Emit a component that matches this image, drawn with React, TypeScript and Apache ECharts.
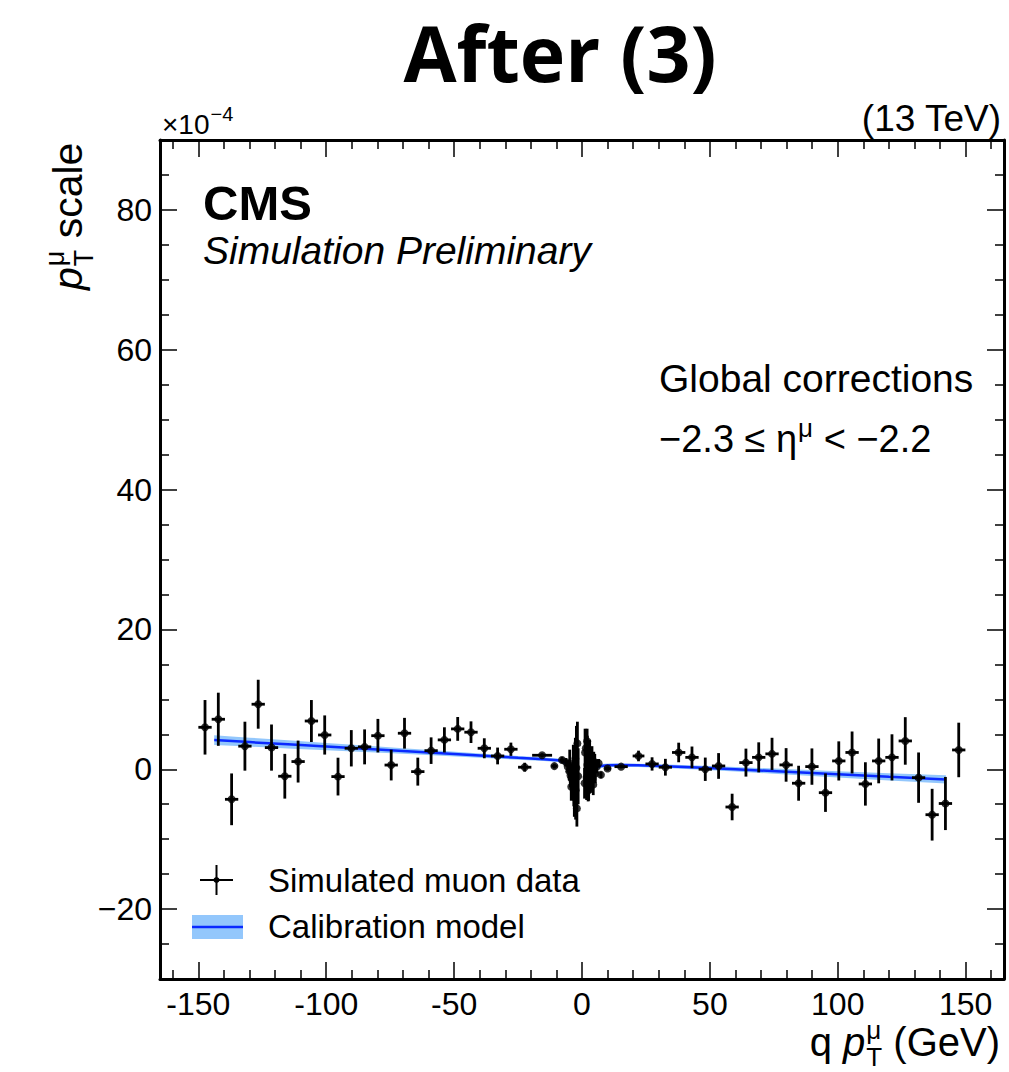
import React, { useEffect, useRef } from 'react';
import * as echarts from 'echarts';

const SANS = '"Liberation Sans", Arial, Helvetica, sans-serif';
const TITLE_FONT = '"Open Sans", "Liberation Sans", sans-serif';
const BAND_COLOR = '#93c7fc';
const LINE_COLOR = '#0a2aff';

// Axis ranges and tick positions
const X_MIN = -165;
const X_MAX = 165;
const Y_MIN = -30;
const Y_MAX = 90;
const xMajorTicks = [-150, -100, -50, 0, 50, 100, 150];
const xMinorTicks = [-160, -140, -130, -120, -110, -90, -80, -70, -60, -40, -30, -20, -10, 10, 20, 30, 40, 60, 70, 80, 90, 110, 120, 130, 140, 160];
const yMajorTicks = [-20, 0, 20, 40, 60, 80];
const yMinorTicks = [-25, -15, -10, -5, 5, 10, 15, 25, 30, 35, 45, 50, 55, 65, 70, 75, 85];

// Simulated muon data, negative-charge side (units of 1e-4)
const BIN_HALF_WIDTH = 2.6;
const leftPt = [-147.4, -142.2, -137.0, -131.8, -126.6, -121.4, -116.2, -111.0, -105.8, -100.6, -95.4, -90.2, -85.0, -79.8, -74.6, -69.4, -64.2, -59.0, -53.8, -48.6, -43.4, -38.2, -33.0, -27.8, -22.4];
const leftScale = [6.0, 7.15, -4.3, 3.3, 9.3, 3.1, -1.0, 1.1, 6.9, 4.9, -1.05, 3.0, 3.2, 4.8, 0.6, 5.15, -0.34, 2.66, 4.2, 5.77, 5.3, 3.0, 1.9, 2.86, 0.29];
const leftErr = [3.9, 3.8, 3.7, 3.5, 3.5, 3.3, 3.2, 3.0, 3.0, 2.8, 2.7, 2.6, 2.5, 2.4, 2.2, 2.2, 2.0, 1.9, 1.8, 1.7, 1.55, 1.43, 1.2, 0.95, 0.64];

// Low-pT core bins
const corePt = [-15.6, -10.8, -7.8, -6.3, -5.6, -5.0, -4.8, -4.5, -4.2, -4.0, -3.6, -3.4, -3.2, -3.0, -2.8, -2.6, -2.5, -2.2, -2.0, -1.8, -1.5,
  1.0, 1.2, 1.5, 1.8, 2.0, 2.1, 2.4, 2.6, 2.8, 3.0, 3.2, 3.6, 3.9, 4.1, 4.4, 4.6, 5.0, 5.2, 5.8, 6.5, 7.4, 10.0, 15.3, 22.1];
const coreScale = [2.0, 0.45, 1.33, 1.0, 0.4, -0.3, 0.8, -0.9, -2.5, -1.4, -1.9, 0.5, -2.4, -4.0, -1.5, 1.5, -3.0, 0.2, -5.6, 3.7, -1.0,
  -2.0, 2.4, 3.0, -1.2, 4.0, 0.6, -1.8, -3.0, 1.4, 2.2, -0.8, 0.3, 1.5, -1.4, -2.2, 0.9, 1.0, -0.6, 0.4, 0.86, -0.8, 0.1, 0.37, 1.9];
const coreErr = [0.3, 0.35, 0.45, 0.6, 0.9, 1.3, 2.0, 1.7, 2.0, 2.1, 2.5, 3.0, 2.9, 2.8, 3.6, 3.0, 4.2, 6.0, 2.6, 3.1, 4.0,
  2.2, 3.4, 2.6, 3.2, 1.8, 4.2, 2.8, 1.5, 2.6, 2.0, 2.6, 2.4, 1.8, 1.8, 1.5, 1.6, 1.2, 1.4, 1.0, 0.6, 0.45, 0.3, 0.25, 0.76];
const coreHalfWidth = [3.9, 1.2, 0.8, 0.3, 0.3, 0.25, 0.25, 0.25, 0.2, 0.2, 0.2, 0.2, 0.2, 0.15, 0.15, 0.15, 0.15, 0.15, 0.15, 0.15, 0.15,
  0.15, 0.15, 0.15, 0.15, 0.15, 0.15, 0.15, 0.15, 0.2, 0.2, 0.2, 0.2, 0.2, 0.25, 0.25, 0.25, 0.3, 0.3, 0.3, 0.35, 0.5, 1.3, 2.6, 2.3];

// Positive-charge side
const rightPt = [27.4, 32.6, 37.8, 43.0, 48.2, 53.4, 58.7, 64.1, 69.1, 74.3, 79.8, 84.7, 89.9, 95.2, 100.4, 105.6, 110.8, 116.0, 121.2, 126.4, 131.6, 136.9, 142.1, 147.3];
const rightScale = [0.76, 0.29, 2.4, 1.7, 0.0, 0.47, -5.4, 0.95, 1.7, 2.2, 0.62, -2.0, 0.38, -3.35, 1.19, 2.4, -2.1, 1.19, 1.7, 4.05, -1.2, -6.5, -4.9, 2.76];
const rightErr = [0.95, 1.2, 1.4, 1.55, 1.67, 1.84, 1.9, 2.0, 2.15, 2.3, 2.4, 2.5, 2.6, 2.75, 2.8, 3.0, 3.1, 3.2, 3.3, 3.4, 3.6, 3.7, 3.8, 3.9];

// Calibration model curve and its uncertainty band
const modelLeftPt = [-143.8, -130, -115, -100, -85, -70, -55, -40, -25, -15, -9.5, -7.5, -5.5];
const modelLeftScale = [4.17, 3.88, 3.56, 3.24, 2.92, 2.6, 2.28, 1.96, 1.64, 1.43, 1.3, 1.08, 0.75];
const modelLeftErr = [0.7, 0.64, 0.58, 0.52, 0.46, 0.4, 0.35, 0.3, 0.27, 0.25, 0.25, 0.28, 0.32];
const modelRightPt = [5.5, 7.5, 10, 15, 22, 30, 45, 60, 80, 100, 120, 142.3];
const modelRightScale = [0.3, 0.47, 0.56, 0.6, 0.56, 0.46, 0.25, 0.0, -0.36, -0.72, -1.08, -1.45];
const modelRightErr = [0.32, 0.28, 0.25, 0.24, 0.24, 0.25, 0.28, 0.32, 0.38, 0.45, 0.52, 0.6];

type FontOpts = { italic?: boolean; bold?: boolean; family?: string; align?: string };

const measureCtx = document.createElement('canvas').getContext('2d') as CanvasRenderingContext2D;

function fontString(size: number, o: FontOpts) {
  return `${o.italic ? 'italic ' : ''}${o.bold ? 'bold ' : ''}${size}px ${o.family || SANS}`;
}

function textWidth(t: string, size: number, o: FontOpts = {}) {
  measureCtx.font = fontString(size, o);
  return measureCtx.measureText(t).width;
}

// SVG text is drawn with a central baseline; shift it so that `baseline` is the alphabetic one.
function centralShift(size: number, o: FontOpts) {
  measureCtx.font = fontString(size, o);
  const m = measureCtx.measureText('Hg');
  const asc = (m as any).fontBoundingBoxAscent ?? size * 0.905;
  const desc = (m as any).fontBoundingBoxDescent ?? size * 0.212;
  return (asc - desc) / 2;
}

function txt(t: string, x: number, baseline: number, size: number, o: FontOpts = {}) {
  return {
    type: 'text',
    x,
    y: baseline - centralShift(size, o),
    silent: true,
    style: {
      text: t,
      fontSize: size,
      fontFamily: o.family || SANS,
      fontWeight: o.bold ? 'bold' : 'normal',
      fontStyle: o.italic ? 'italic' : 'normal',
      fill: '#000',
      align: o.align || 'left',
      verticalAlign: 'middle',
    },
  };
}

// "p_T^mu" with optional leading/trailing text, laid out from local x = x0
function ptLabel(x0: number, baseline: number, size: number, before: string, after: string) {
  const scriptSize = Math.round(size * 0.66);
  const els: any[] = [];
  let x = x0;
  if (before) {
    els.push(txt(before, x, baseline, size));
    x += textWidth(before, size);
  }
  els.push(txt('p', x, baseline, size, { italic: true }));
  x += textWidth('p', size, { italic: true }) + 1;
  els.push(txt('μ', x, baseline - size * 0.43, scriptSize));
  els.push(txt('T', x, baseline + size * 0.26, scriptSize));
  x += Math.max(textWidth('μ', scriptSize), textWidth('T', scriptSize));
  els.push(txt(after, x, baseline, size));
  return els;
}

function ptLabelWidth(size: number, before: string, after: string) {
  const scriptSize = Math.round(size * 0.66);
  return (
    (before ? textWidth(before, size) : 0) +
    textWidth('p', size, { italic: true }) + 1 +
    Math.max(textWidth('μ', scriptSize), textWidth('T', scriptSize)) +
    textWidth(after, size)
  );
}

function buildOption() {
  const points: number[][] = [];
  leftPt.forEach((x, i) => points.push([x, leftScale[i], BIN_HALF_WIDTH, leftErr[i]]));
  corePt.forEach((x, i) => points.push([x, coreScale[i], coreHalfWidth[i], coreErr[i]]));
  rightPt.forEach((x, i) => points.push([x, rightScale[i], BIN_HALF_WIDTH, rightErr[i]]));

  const bands = [
    { x: modelLeftPt, y: modelLeftScale, e: modelLeftErr },
    { x: modelRightPt, y: modelRightScale, e: modelRightErr },
  ];

  const grid = { left: 160, top: 140, width: 844, height: 839, containLabel: false, outerBoundsMode: 'none' };

  const xAxis = (gridIndex: number, position: string, ticks: number[], len: number, line: boolean, labels: boolean) => ({
    type: 'value',
    gridIndex,
    position,
    min: X_MIN,
    max: X_MAX,
    axisLine: { show: line, onZero: false, lineStyle: { color: '#000', width: 3 } },
    axisTick: { show: true, inside: true, length: len, customValues: ticks, lineStyle: { color: '#000', width: 1.5 } },
    axisLabel: labels
      ? { show: true, customValues: ticks, margin: 9, color: '#000', fontSize: 32, fontFamily: SANS }
      : { show: false },
    splitLine: { show: false },
    minorTick: { show: false },
  });

  const yAxis = (gridIndex: number, position: string, ticks: number[], len: number, line: boolean, labels: boolean) => ({
    type: 'value',
    gridIndex,
    position,
    min: Y_MIN,
    max: Y_MAX,
    axisLine: { show: line, onZero: false, lineStyle: { color: '#000', width: 3 } },
    axisTick: { show: true, inside: true, length: len, customValues: ticks, lineStyle: { color: '#000', width: 1.5 } },
    axisLabel: labels
      ? {
          show: true,
          customValues: ticks,
          margin: 8,
          color: '#000',
          fontSize: 32,
          fontFamily: SANS,
          formatter: (v: number) => String(v).replace('-', '\u2212'),
        }
      : { show: false },
    splitLine: { show: false },
    minorTick: { show: false },
  });

  // Annotation texts
  const g: any[] = [];
  g.push(txt('After (3)', 560, 82, 77, { bold: true, family: TITLE_FONT, align: 'center' }));
  g.push(txt('×10', 162, 134, 28));
  g.push(txt('\u22124', 162 + textWidth('×10', 28) + 1, 121, 20));
  g.push(txt('(13 TeV)', 1001, 131, 37, { align: 'right' }));
  g.push(txt('CMS', 203, 220, 49, { bold: true }));
  g.push(txt('Simulation Preliminary', 203, 264, 39, { italic: true }));
  g.push(txt('Global corrections', 659, 392, 39));
  const etaA = '\u22122.3 ≤ η';
  g.push(txt(etaA, 659, 452, 38));
  const etaX = 659 + textWidth(etaA, 38) + 1;
  g.push(txt('μ', etaX, 437, 26));
  g.push(txt(' < \u22122.2', etaX + textWidth('μ', 26), 452, 38));

  // Legend
  g.push({ type: 'line', shape: { x1: 200, y1: 880, x2: 233, y2: 880 }, style: { stroke: '#000', lineWidth: 2 }, silent: true });
  g.push({ type: 'line', shape: { x1: 216.5, y1: 865, x2: 216.5, y2: 895 }, style: { stroke: '#000', lineWidth: 2 }, silent: true });
  g.push({ type: 'circle', shape: { cx: 216.5, cy: 880, r: 3 }, style: { fill: '#000' }, silent: true });
  g.push(txt('Simulated muon data', 268, 892, 33));
  g.push({ type: 'rect', shape: { x: 192, y: 915, width: 51, height: 24 }, style: { fill: BAND_COLOR }, silent: true });
  g.push({ type: 'line', shape: { x1: 192, y1: 927, x2: 243, y2: 927 }, style: { stroke: LINE_COLOR, lineWidth: 2.5 }, silent: true });
  g.push(txt('Calibration model', 268, 938, 33));

  // Axis titles
  const xTitleSize = 40;
  const xTitleStart = 1000 - ptLabelWidth(xTitleSize, 'q ', ' (GeV)');
  g.push(...ptLabel(xTitleStart, 1056, xTitleSize, 'q ', ' (GeV)'));
  g.push({
    type: 'group',
    x: 82,
    y: 290,
    rotation: Math.PI / 2,
    children: ptLabel(0, 0, 41, '', ' scale'),
  });

  return {
    animation: false,
    backgroundColor: '#ffffff',
    grid: [grid, { ...grid }],
    xAxis: [
      xAxis(0, 'bottom', xMajorTicks, 17, true, true),
      xAxis(0, 'top', xMajorTicks, 17, true, false),
      xAxis(1, 'bottom', xMinorTicks, 9, false, false),
      xAxis(1, 'top', xMinorTicks, 9, false, false),
    ],
    yAxis: [
      yAxis(0, 'left', yMajorTicks, 17, true, true),
      yAxis(0, 'right', yMajorTicks, 17, true, false),
      yAxis(1, 'left', yMinorTicks, 9, false, false),
      yAxis(1, 'right', yMinorTicks, 9, false, false),
    ],
    series: [
      {
        type: 'custom',
        name: 'band',
        xAxisIndex: 0,
        yAxisIndex: 0,
        data: [[0, 0], [1, 0]],
        silent: true,
        z: 1,
        renderItem: (params: any, api: any) => {
          const b = bands[params.dataIndex];
          const upper = b.x.map((x, i) => api.coord([x, b.y[i] + b.e[i]]));
          const lower = b.x.map((x, i) => api.coord([x, b.y[i] - b.e[i]])).reverse();
          return { type: 'polygon', shape: { points: upper.concat(lower) }, style: { fill: BAND_COLOR } };
        },
      },
      {
        type: 'line',
        name: 'model-neg',
        xAxisIndex: 0,
        yAxisIndex: 0,
        data: modelLeftPt.map((x, i) => [x, modelLeftScale[i]]),
        showSymbol: false,
        symbol: 'none',
        lineStyle: { color: LINE_COLOR, width: 2.5 },
        silent: true,
        z: 2,
      },
      {
        type: 'line',
        name: 'model-pos',
        xAxisIndex: 0,
        yAxisIndex: 0,
        data: modelRightPt.map((x, i) => [x, modelRightScale[i]]),
        showSymbol: false,
        symbol: 'none',
        lineStyle: { color: LINE_COLOR, width: 2.5 },
        silent: true,
        z: 2,
      },
      {
        type: 'custom',
        name: 'errors',
        xAxisIndex: 0,
        yAxisIndex: 0,
        data: points,
        encode: { x: 0, y: 1 },
        silent: true,
        z: 3,
        renderItem: (_params: any, api: any) => {
          const x = api.value(0);
          const y = api.value(1);
          const xe = api.value(2);
          const ye = api.value(3);
          const h0 = api.coord([x - xe, y]);
          const h1 = api.coord([x + xe, y]);
          const v0 = api.coord([x, y - ye]);
          const v1 = api.coord([x, y + ye]);
          const st = { stroke: '#000', lineWidth: 2.8 };
          return {
            type: 'group',
            children: [
              { type: 'line', shape: { x1: h0[0], y1: h0[1], x2: h1[0], y2: h1[1] }, style: st },
              { type: 'line', shape: { x1: v0[0], y1: v0[1], x2: v1[0], y2: v1[1] }, style: st },
            ],
          };
        },
      },
      {
        type: 'scatter',
        name: 'Simulated muon data',
        xAxisIndex: 0,
        yAxisIndex: 0,
        data: points.map((p) => [p[0], p[1]]),
        symbol: 'circle',
        symbolSize: 8,
        itemStyle: { color: '#000' },
        silent: true,
        z: 4,
      },
    ],
    graphic: { elements: g },
  };
}

export default function App() {
  const ref = useRef<HTMLDivElement>(null);
  useEffect(() => {
    if (!ref.current) return;
    const chart = echarts.init(ref.current, null, { renderer: 'svg' });
    chart.setOption(buildOption() as any);
    return () => chart.dispose();
  }, []);
  return (
    <div
      ref={ref}
      style={{ position: 'absolute', left: 0, top: 0, width: 1009, height: 1072, background: '#fff' }}
    />
  );
}
